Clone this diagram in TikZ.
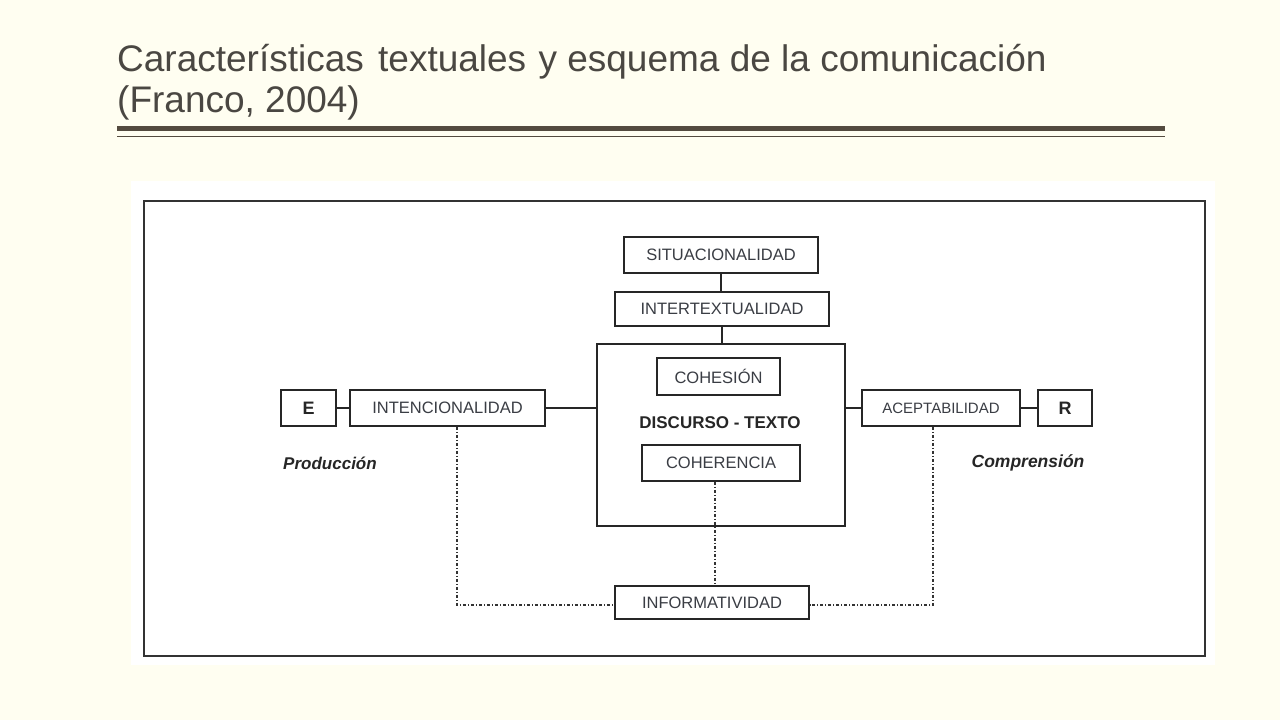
\documentclass[tikz,border=0pt]{standalone}
\usepackage{fontspec}
\setmainfont{Liberation Sans}
\definecolor{cream}{HTML}{FFFEF1}
\definecolor{titlegray}{HTML}{4A4742}
\definecolor{rulebrown}{HTML}{544B3F}
\definecolor{boxtext}{HTML}{3A3D44}
\begin{document}
\begin{tikzpicture}[x=1pt,y=-1pt,
  lbl/.style={draw=black!85,line width=1.8pt,fill=white,inner sep=0pt,font=\fontsize{16.5}{18}\selectfont,text=boxtext},
  conn/.style={line width=1.8pt,draw=black!85},
  dd/.style={line width=1.8pt,draw=black!80,dash pattern=on 3.5pt off 1.5pt on 1.5pt off 1.5pt},
  ttl/.style={anchor=base west,font=\fontsize{37}{40}\selectfont,text=titlegray,inner sep=0pt}]
\useasboundingbox (0,0) rectangle (1280,720);
\fill[cream] (0,0) rectangle (1280,720);
% title
\node[ttl] (title1) at (117,71) {Características\hspace{4pt} textuales\hspace{2pt} y esquema de la comunicación};
\node[ttl] (title2) at (117,112) {(Franco, 2004)};
\fill[rulebrown] (117,125.5) rectangle (1165,130.5);
\fill[rulebrown] (117,135.5) rectangle (1165,136.5);
% white panel and frame
\fill[white] (131,181) rectangle (1215,665);
\draw[line width=2pt,draw=black!80] (144,201) rectangle (1205,656);
% boxes
\node[lbl,minimum width=194pt,minimum height=36pt] (sit) at (721,255) {SITUACIONALIDAD};
\node[lbl,minimum width=214pt,minimum height=34pt] (int) at (722,309) {INTERTEXTUALIDAD};
\node[draw=black!85,line width=1.8pt,minimum width=248pt,minimum height=182pt,inner sep=0pt] (dt) at (721,435) {};
\node[lbl,minimum width=123pt,minimum height=37pt] (coh) at (718.5,376.5) {COHESIÓN};
\node[font=\bfseries\fontsize{17}{19}\selectfont,text=black!85,inner sep=0pt] (dtt) at (720,423) {DISCURSO - TEXTO};
\node[lbl,minimum width=158pt,minimum height=36pt] (cohe) at (721,463) {COHERENCIA};
\node[lbl,minimum width=55pt,minimum height=36pt,font=\bfseries\fontsize{18}{20}\selectfont,text=black!85] (e) at (308.5,408) {E};
\node[lbl,minimum width=195pt,minimum height=36pt] (inten) at (447.5,408) {INTENCIONALIDAD};
\node[lbl,minimum width=158pt,minimum height=36pt,font=\fontsize{15}{17}\selectfont] (acep) at (941,408) {ACEPTABILIDAD};
\node[lbl,minimum width=54pt,minimum height=36pt,font=\bfseries\fontsize{18}{20}\selectfont,text=black!85] (r) at (1065,408) {R};
\node[lbl,minimum width=194pt,minimum height=33pt] (inf) at (712,602.5) {INFORMATIVIDAD};
\node[font=\bfseries\itshape\fontsize{17}{19}\selectfont,text=black!85,inner sep=0pt] (prod) at (330,463) {Producción};
\node[font=\bfseries\itshape\fontsize{17.5}{19}\selectfont,text=black!85,inner sep=0pt] (comp) at (1028,463) {Comprensión};
% solid connectors
\draw[conn] (sit.south) -- (sit.south |- int.north);
\draw[conn] (int.south) -- (int.south |- dt.north);
\draw[conn] (e) -- (inten);
\draw[conn] (inten) -- (inten -| dt.west);
\draw[conn] (acep -| dt.east) -- (acep);
\draw[conn] (acep) -- (r);
% dash-dot connectors
\coordinate (bl) at (457,605);
\coordinate (br) at (933,605);
\draw[dd] (inten.south -| bl) -- (bl) -- (bl -| inf.west);
\draw[dd] (acep.south -| br) -- (br) -- (br -| inf.east);
\draw[dd] (cohe.south -| 715,0) -- (inf.north -| 715,0);
\end{tikzpicture}
\end{document}
